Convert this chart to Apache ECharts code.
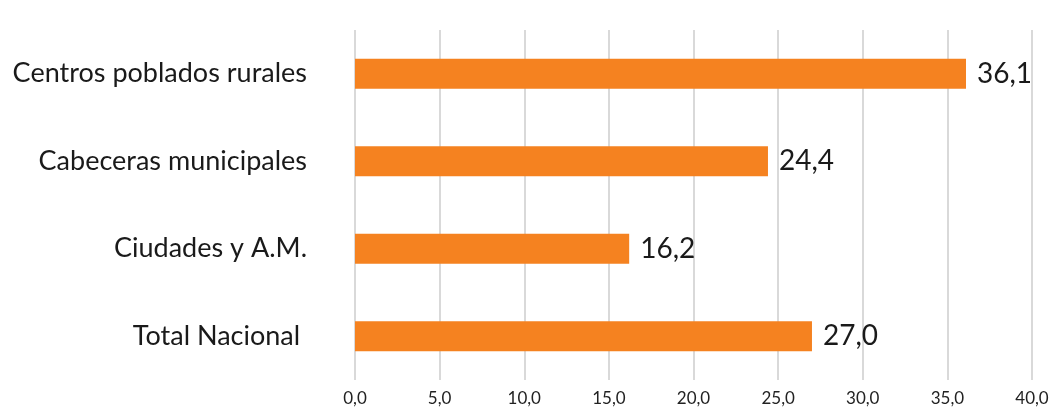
<!DOCTYPE html>
<html>
<head>
<meta charset="utf-8">
<script src="https://cdn.jsdelivr.net/npm/echarts@6/dist/echarts.min.js"></script>
<style>
html,body{margin:0;padding:0;background:#fff;}
#chart{width:1064px;height:415px;}
</style>
</head>
<body>
<div id="chart"></div>
<script>
const categories = ['Total Nacional ', 'Ciudades y A.M.', 'Cabeceras municipales', 'Centros poblados rurales'];
const values = [27.0, 16.2, 24.4, 36.1];
const xTicks = { min: 0, max: 40, interval: 5 };

const chart = echarts.init(document.getElementById('chart'), null, { renderer: 'canvas' });
const fmt = v => v.toFixed(1).replace('.', ',');
chart.setOption({
  animation: false,
  textStyle: { fontFamily: 'Lato' },
  grid: { left: 355, right: 32, top: 30, bottom: 35, containLabel: false },
  xAxis: {
    type: 'value',
    min: xTicks.min, max: xTicks.max, interval: xTicks.interval,
    axisLine: { show: false },
    axisTick: { show: false },
    splitLine: { show: true, lineStyle: { color: '#d9d9d9', width: 2 } },
    axisLabel: { formatter: v => fmt(v), fontSize: 17, color: '#222', margin: 10, fontFamily: 'Lato' }
  },
  yAxis: {
    type: 'category',
    data: categories,
    axisLine: { show: false },
    axisTick: { show: false },
    axisLabel: { fontSize: 27, color: '#1a1a1a', margin: 48, fontFamily: 'Lato' }
  },
  series: [{
    type: 'bar',
    data: values,
    barWidth: 30,
    itemStyle: { color: '#F58220' },
    label: {
      show: true, position: 'right', distance: 11,
      formatter: p => fmt(p.value),
      fontSize: 28, color: '#1a1a1a', fontFamily: 'Lato'
    }
  }]
});
</script>
</body>
</html>
